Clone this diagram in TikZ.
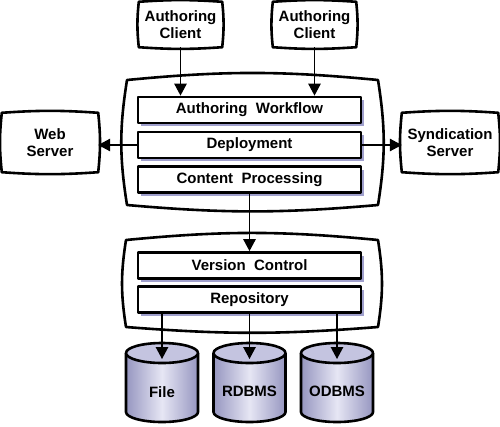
\documentclass[tikz,border=0pt]{standalone}
\usepackage{fontspec}
\setmainfont{Liberation Sans}
\usetikzlibrary{arrows.meta,shadows}

\definecolor{shadowc}{RGB}{160,160,205}
\definecolor{cylside}{RGB}{150,150,192}
\definecolor{cylmid}{RGB}{230,230,244}
\definecolor{cyltop}{RGB}{196,196,224}

% outline with slightly bulging edges round a named node
\newcommand{\bulge}[1]{%
  \draw[frameline] (#1.north west) to[bend left=4] (#1.north east)
    to[bend left=6] (#1.south east) to[bend left=4] (#1.south west)
    to[bend left=6] cycle;}

\begin{document}
\begin{tikzpicture}[x=1pt, y=-1pt, >={Triangle[length=12pt,width=12.5pt]}, line join=round,
  frameline/.style={line width=2.6pt},
  txt/.style={font=\fontsize{15}{17}\selectfont\bfseries, align=center},
  clientbox/.style={txt, minimum width=83pt, minimum height=45pt, inner sep=0pt},
  serverbox/.style={txt, minimum width=96pt, minimum height=59pt, inner sep=0pt},
  layerbox/.style={txt, draw, line width=2.8pt, fill=white, minimum width=223pt,
    minimum height=26pt, inner sep=0pt,
    drop shadow={shadow xshift=3pt, shadow yshift=-3pt, fill=shadowc, opacity=1}},
  conn/.style={line width=1.3pt, ->},
  dbbody/.style={frameline, left color=cylside, right color=cylside, middle color=cylmid},
  dbtop/.style={frameline, fill=cyltop}]
  \useasboundingbox (0,0) rectangle (500,426);

  % containers
  \draw[frameline] (127,80) to[bend left=5.5] (378,80) to[bend left=9] (378,205)
    to[bend left=5] (127,205) to[bend left=9] cycle;
  \draw[frameline] (126,240) to[bend left=5.5] (378,240) to[bend left=9] (378,327)
    to[bend left=4.5] (126,327) to[bend left=9] cycle;

  % clients and servers
  \node[clientbox] (ac1) at (180.5,24.5) {Authoring\\Client};
  \node[clientbox] (ac2) at (314.5,24.5) {Authoring\\Client};
  \node[serverbox] (web) at (50,142.5) {Web\\Server};
  \node[serverbox] (synd) at (450,142.5) {Syndication\\Server};
  \bulge{ac1}
  \bulge{ac2}
  \bulge{web}
  \bulge{synd}

  % layers
  \node[layerbox] (aw) at (249.5,110) {Authoring\ \ Workflow};
  \node[layerbox] (dep) at (249.5,145) {Deployment};
  \node[layerbox] (cp) at (249.5,179.5) {Content\ \ Processing};
  \node[layerbox] (vc) at (249.5,265.5) {Version\ \ Control};
  \node[layerbox] (repo) at (249.5,299.5) {Repository};

  % stores
  \draw[dbbody] (126,353) -- (126,412) arc[start angle=180, end angle=360, x radius=36pt, y radius=10pt] -- (198,353);
  \draw[dbtop] (162,353) ellipse (36pt and 10pt);
  \draw[dbbody] (213.5,353) -- (213.5,412) arc[start angle=180, end angle=360, x radius=36pt, y radius=10pt] -- (285.5,353);
  \draw[dbtop] (249.5,353) ellipse (36pt and 10pt);
  \draw[dbbody] (301,353) -- (301,412) arc[start angle=180, end angle=360, x radius=36pt, y radius=10pt] -- (373,353);
  \draw[dbtop] (337,353) ellipse (36pt and 10pt);
  \node[txt] (file) at (162,392) {File};
  \node[txt] (rdbms) at (249.5,391) {RDBMS};
  \node[txt] (odbms) at (337,391) {ODBMS};
  \coordinate (filetop) at (162,359);
  \coordinate (rdbmstop) at (249.5,359);
  \coordinate (odbmstop) at (337,359);

  % connectors
  \draw[conn] (ac1) -- (ac1 |- aw.north);
  \draw[conn] (ac2) -- (ac2 |- aw.north);
  \draw[conn] (dep.west) -- (web.east |- dep.west);
  \draw[conn] (dep.east) -- (synd.west |- dep.east);
  \draw[conn] (cp) -- (vc);
  \draw[conn] (file |- repo.south) -- (filetop);
  \draw[conn] (rdbms |- repo.south) -- (rdbmstop);
  \draw[conn] (odbms |- repo.south) -- (odbmstop);
\end{tikzpicture}
\end{document}
